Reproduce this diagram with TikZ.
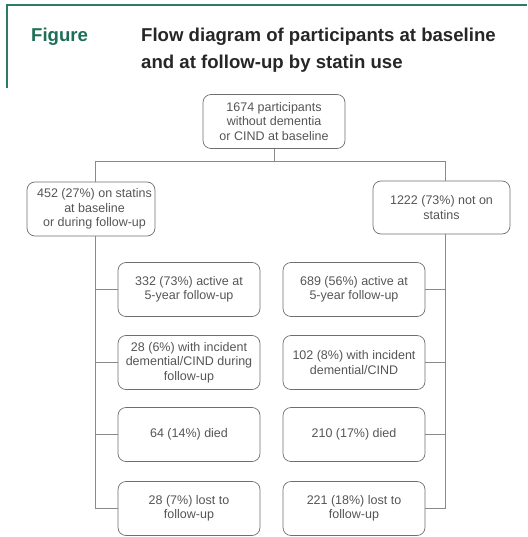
\documentclass[tikz,border=0pt]{standalone}
\usepackage{fontspec}
\setmainfont{Liberation Sans}
\definecolor{hdrgreen}{HTML}{2F7A66}
\definecolor{figgreen}{HTML}{1E6E57}
\definecolor{boxline}{HTML}{6E6E6E}
\definecolor{boxtext}{HTML}{555555}
\definecolor{conline}{HTML}{8A8A8A}
\begin{document}
\begin{tikzpicture}[x=1pt,y=-1pt,
  flowbox/.style={draw=boxline, line width=0.7pt, rounded corners=8pt, align=center,
    text=boxtext, font=\fontsize{12.5}{14.5}\selectfont, inner sep=0pt,
    minimum width=142pt, minimum height=54pt},
  conn/.style={draw=conline, line width=0.6pt},
  hdr/.style={draw=hdrgreen, line width=2pt},
  titletext/.style={anchor=base west, inner sep=0pt, font=\fontsize{18.6}{27}\selectfont\bfseries}
]
\useasboundingbox (0,0) rectangle (527,537);
% header frame
\coordinate (hTL) at (7,5);
\coordinate (hTR) at (527,5);
\coordinate (hBL) at (7,88);
\draw[hdr] (hBL) -- (hTL) -- (hTR);
\node[titletext, text=figgreen] (figlabel) at (31,42) {Figure};
\node[titletext, text=black!85] (title1) at (141,42) {Flow diagram of participants at baseline};
\node[titletext, text=black!85] (title2) at (141,69) {and at follow-up by statin use};

% boxes
\node[flowbox] (top) at (274,121.5) {1674 participants\\without dementia\\or CIND at baseline};
\node[flowbox, minimum width=128pt] (L0) at (91,209) {\hspace*{7pt}452 (27\%) on statins\\\hspace*{7pt}at baseline\\\hspace*{7pt}or during follow-up};
\node[flowbox, minimum width=137pt, minimum height=53pt] (R0) at (441.5,207.5) {1222 (73\%) not on\\statins};

\node[flowbox] (L1) at (189,289.5) {332 (73\%) active at\\5-year follow-up};
\node[flowbox] (L2) at (189,362.5) {28 (6\%) with incident\\demential/CIND during\\follow-up};
\node[flowbox] (L3) at (189,434.5) {64 (14\%) died};
\node[flowbox] (L4) at (189,508.5) {28 (7\%) lost to\\follow-up};

\node[flowbox] (R1) at (354,289.5) {689 (56\%) active at\\5-year follow-up};
\node[flowbox] (R2) at (354,362.5) {102 (8\%) with incident\\demential/CIND};
\node[flowbox] (R3) at (354,434.5) {210 (17\%) died};
\node[flowbox] (R4) at (354,508.5) {221 (18\%) lost to\\follow-up};

% connectors
\coordinate (jL) at (95.5,161);
\coordinate (jR) at (445,161);
\draw[conn] (top.south) -- (top.south |- jL);
\draw[conn] (jL) -- (jR);
\draw[conn] (jL) -- (jL |- L0.north);
\draw[conn] (jR) -- (jR |- R0.north);
\draw[conn] (jL |- L0.south) -- (jL |- L4.west) -- (L4.west);
\draw[conn] (L1.west) -- (L1.west -| jL);
\draw[conn] (L2.west) -- (L2.west -| jL);
\draw[conn] (L3.west) -- (L3.west -| jL);
\draw[conn] (jR |- R0.south) -- (jR |- R4.east) -- (R4.east);
\draw[conn] (R1.east) -- (R1.east -| jR);
\draw[conn] (R2.east) -- (R2.east -| jR);
\draw[conn] (R3.east) -- (R3.east -| jR);
\end{tikzpicture}
\end{document}
